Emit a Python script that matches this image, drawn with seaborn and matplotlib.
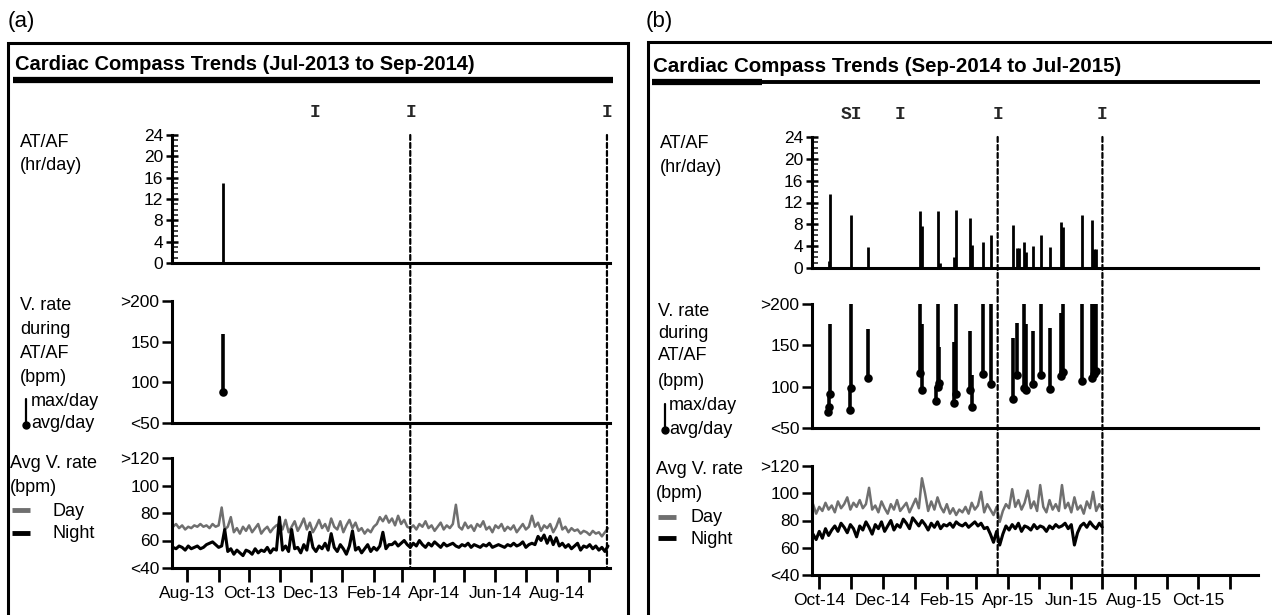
import numpy as np
import pandas as pd
import matplotlib
matplotlib.use("Agg")
import matplotlib.pyplot as plt
import matplotlib.dates as mdates
from matplotlib.patches import Rectangle, ConnectionPatch
from matplotlib.lines import Line2D
import seaborn as sns

sns.set_theme(style="white")
plt.rcParams['font.family'] = ['Liberation Sans', 'DejaVu Sans']

# ------------------------------------------------------------------ data (a)
a_title = "Cardiac Compass Trends (Jul-2013 to Sep-2014)"
a_xlim = ["2013-07-17", "2014-09-22"]
a_afib_dates = ["2013-09-05"]
a_afib_hours = [15]
a_vr_dates = ["2013-09-05"]
a_vr_max = [160]
a_vr_avg = [88]
a_marker_dates = ["2013-12-05", "2014-03-10", "2014-09-19"]
a_marker_text = ["I", "I", "I"]
a_dashed_dates = ["2014-03-09", "2014-09-19"]
a_rate_start = "2013-07-18"
a_rate_step_days = 3
a_day = [70, 72, 69, 71, 68, 70, 69, 71, 70, 72, 70,
         71, 69, 72, 70, 71, 84,
         68, 70, 77,
         66, 69, 65, 70, 67, 71, 66, 69, 72, 65, 68, 70, 66, 69, 71,
         72, 68, 75, 66, 70, 74, 67, 71, 76, 68, 73, 66, 70, 75, 69, 72, 67, 76, 70, 68, 74, 66, 71, 75, 69, 73,
         67, 69, 65, 68, 66, 70,
         72, 77, 74, 78, 73,
         76, 71, 78, 72, 75, 70,
         69, 71, 68, 72, 70, 74, 69, 71, 67, 70, 73, 68, 71, 69,
         72, 86,
         70, 68, 73, 69, 71, 67, 72, 70, 74, 68, 70, 66, 71, 69, 72, 67, 70, 68, 71, 66, 69, 72, 68, 70,
         78,
         70, 73, 67, 71, 69, 72, 66, 70,
         76,
         68, 70, 66, 69, 67, 68, 65, 67, 66, 64, 67, 65, 66,
         63, 66, 69]
a_night = [55, 54, 56, 55, 53, 56, 54, 55, 56, 54, 55,
           57, 58, 59, 57, 55, 56,
           68,
           52, 54, 50, 53, 51, 49, 53, 52, 50, 54, 51, 53, 52, 55, 51, 54, 53,
           77,
           53, 56, 52, 68, 54, 55, 51, 57, 53, 66, 55, 52, 56, 54, 58, 53, 65, 55, 52, 57, 54, 50, 56, 67,
           53, 55, 51, 54, 57, 52, 55, 53, 56, 66, 54, 57,
           57, 59, 56, 58, 60, 57,
           55, 58, 56, 60, 57, 55, 58, 56, 59, 57, 55, 58, 56, 57,
           58, 56, 55, 57, 56, 58, 55, 57, 56, 55, 57, 56, 58, 55, 56, 57, 56, 55, 57, 56, 58, 56, 57, 59, 55, 57,
           58, 57, 63, 60, 64, 58, 63, 57, 62,
           56, 58, 55, 57, 54, 56, 58, 53, 56, 55, 57, 54, 56, 53, 55, 52, 56]

# ------------------------------------------------------------------ data (b)
b_title = "Cardiac Compass Trends (Sep-2014 to Jul-2015)"
b_xlim = ["2014-09-24", "2015-11-28"]
b_afib_dates = ["2014-10-10", "2014-10-11", "2014-11-01", "2014-11-17", "2015-01-06", "2015-01-08",
                "2015-01-23", "2015-01-25", "2015-02-08", "2015-02-10", "2015-02-23", "2015-02-25",
                "2015-03-08", "2015-03-16", "2015-04-06", "2015-04-10", "2015-04-12", "2015-04-16",
                "2015-04-18", "2015-04-25", "2015-05-03", "2015-05-11", "2015-05-22", "2015-05-24",
                "2015-06-11", "2015-06-21", "2015-06-23", "2015-06-25"]
b_afib_hours = [1.2, 13.5, 9.8, 3.8, 10.4, 7.7,
                10.4, 1.0, 2.1, 10.7, 9.1, 4.3,
                4.8, 6.0, 7.9, 3.7, 3.7, 4.8,
                2.9, 4.1, 6.0, 3.8, 8.5, 7.6,
                9.8, 8.8, 3.5, 3.5]
b_vr_dates = ["2014-10-09", "2014-10-10", "2014-10-11", "2014-10-31", "2014-11-01", "2014-11-17",
              "2015-01-06", "2015-01-08", "2015-01-22", "2015-01-23", "2015-01-24", "2015-02-08",
              "2015-02-10", "2015-02-23", "2015-02-25", "2015-03-08", "2015-03-16", "2015-04-06",
              "2015-04-10", "2015-04-16", "2015-04-18", "2015-04-25", "2015-05-03", "2015-05-11",
              "2015-05-22", "2015-05-24", "2015-06-11", "2015-06-21", "2015-06-23", "2015-06-25"]
b_vr_max = [75, 91, 176, 98, 200, 170,
            200, 176, 100, 200, 148, 154,
            200, 167, 114, 200, 200, 159,
            177, 200, 176, 167, 200, 171,
            189, 200, 200, 200, 200, 200]
b_vr_avg = [69, 75, 91, 72, 98, 111,
            116, 96, 83, 100, 105, 80,
            91, 96, 76, 115, 103, 85,
            114, 98, 96, 103, 114, 97,
            113, 118, 107, 111, 115, 119]
b_marker_dates = ["2014-11-01", "2014-12-18", "2015-03-22", "2015-07-01"]
b_marker_text = ["SI", "I", "I", "I"]
b_dashed_dates = ["2015-03-22", "2015-07-01"]
b_rate_start = "2014-09-25"
b_rate_step_days = 3
b_day = [92, 85, 90, 87, 93, 88, 91, 86, 94, 89,
         92, 97, 88, 93, 90, 95, 89, 92,
         104,
         88, 91, 86, 94, 89, 85, 92, 88, 95, 87, 90, 93, 86, 91, 96, 89,
         111, 100,
         87, 94, 88, 97, 90, 86, 92, 85, 89, 84, 88, 86, 90, 85, 93, 88, 91,
         101,
         86, 92, 88, 84, 90, 79, 87, 92, 89,
         103,
         90, 95, 88, 93,
         102,
         89, 94, 87,
         106,
         90, 86, 95, 88, 92, 87,
         106,
         89, 93, 86, 97, 88, 91, 85, 94, 89,
         101,
         87, 92, 88]
b_night = [70, 66, 72, 67, 74, 69, 73, 76, 72, 78,
           75, 71, 77, 74, 68, 76, 73, 79, 75, 70,
           77, 74, 79, 72, 76, 80, 73, 77, 75, 81,
           78, 74, 82, 79, 76, 80, 77, 73, 78, 75,
           79, 74, 77, 76, 78, 75, 79, 77, 76, 78,
           75, 77, 79, 76, 78, 74, 75, 70, 64, 72,
           62, 70, 76, 73, 77, 74, 78, 72, 76, 75,
           73, 77, 74, 76, 75, 72, 76, 74, 77, 75,
           76, 78, 74, 77, 62, 71, 76, 78, 75, 79,
           76, 74, 78, 75]

afib_ticks = [0, 4, 8, 12, 16, 20, 24]
vr_ticks = [50, 100, 150, 200]
vr_ticklabels = ["<50", "100", "150", ">200"]
rate_ticks = [40, 60, 80, 100, 120]
rate_ticklabels = ["<40", "60", "80", "100", ">120"]

DAY_COLOR = "#6f6f6f"
W, H = 1272, 615

fig = plt.figure(figsize=(W / 100, H / 100), dpi=100)


def rect(x0, y0, x1, y1):
    return [x0 / W, 1 - y1 / H, (x1 - x0) / W, (y1 - y0) / H]


def fx(x):
    return x / W


def fy(y):
    return 1 - y / H


def ftext(x, y, s, **kw):
    kw.setdefault("fontsize", 13)
    kw.setdefault("va", "center")
    kw.setdefault("ha", "left")
    kw.setdefault("color", "black")
    fig.text(fx(x), fy(y), s, **kw)


def fline(x0, y0, x1, y1, **kw):
    kw.setdefault("color", "black")
    fig.add_artist(Line2D([fx(x0), fx(x1)], [fy(y0), fy(y1)], **kw))


def style_axis(ax, xlim):
    ax.set_xlim(pd.to_datetime(xlim[0]), pd.to_datetime(xlim[1]))
    sns.despine(ax=ax)
    ax.set_facecolor("none")
    for s in ["left", "bottom"]:
        ax.spines[s].set_color("black")
        ax.spines[s].set_linewidth(2.2)
    ax.set_xlabel("")
    ax.set_ylabel("")
    ax.tick_params(axis="y", colors="black", labelsize=12.5, width=1.8, length=7,
                   direction="out", pad=2, left=True)


def build_panel(cfg):
    x0, x1 = cfg["x0"], cfg["x1"]
    ys = cfg["ys"]
    ax1 = fig.add_axes(rect(x0, ys[0][0], x1, ys[0][1]))
    ax2 = fig.add_axes(rect(x0, ys[1][0], x1, ys[1][1]))
    ax3 = fig.add_axes(rect(x0, ys[2][0], x1, ys[2][1]))

    # AT/AF hours
    afd = pd.to_datetime(cfg["afib_dates"])
    ax1.vlines(afd, 0, cfg["afib_hours"], color="black", lw=2.0)
    ax1.set_ylim(0, 24)
    style_axis(ax1, cfg["xlim"])
    ax1.set_yticks(afib_ticks)
    ax1.set_yticks(np.arange(0, 25, 1), minor=True)
    ax1.tick_params(axis="y", which="minor", direction="in", length=4, width=1.2, left=True)
    ax1.tick_params(axis="y", which="major", direction="inout", length=9)
    ax1.tick_params(axis="x", bottom=False, labelbottom=False)

    # V. rate during AT/AF
    vrd = pd.to_datetime(cfg["vr_dates"])
    ax2.vlines(vrd, cfg["vr_avg"], cfg["vr_max"], color="black", lw=2.6)
    sns.scatterplot(x=vrd, y=cfg["vr_avg"], ax=ax2, color="black", s=38,
                    linewidth=0, legend=False, clip_on=False, zorder=3)
    ax2.set_ylim(50, 200)
    style_axis(ax2, cfg["xlim"])
    ax2.set_yticks(vr_ticks)
    ax2.set_yticklabels(vr_ticklabels)
    ax2.tick_params(axis="x", bottom=False, labelbottom=False)

    # Avg V. rate day / night
    dd = pd.date_range(cfg["rate_start"], periods=len(cfg["day"]), freq=f"{cfg['step']}D")
    nd = pd.date_range(cfg["rate_start"], periods=len(cfg["night"]), freq=f"{cfg['step']}D")
    sns.lineplot(x=dd, y=cfg["day"], ax=ax3, color=DAY_COLOR, lw=1.8)
    sns.lineplot(x=nd, y=cfg["night"], ax=ax3, color="black", lw=2.2)
    ax3.set_ylim(40, 120)
    style_axis(ax3, cfg["xlim"])
    ax3.set_yticks(rate_ticks)
    ax3.set_yticklabels(rate_ticklabels)
    ax3.xaxis.set_major_locator(mdates.MonthLocator(bymonth=(2, 4, 6, 8, 10, 12)))
    ax3.xaxis.set_major_formatter(mdates.DateFormatter("%b-%y"))
    ax3.xaxis.set_minor_locator(mdates.MonthLocator())
    ax3.tick_params(axis="x", which="both", bottom=True, direction="out", length=10,
                    width=2.0, colors="black", labelsize=12.5, pad=3)

    # event markers above the top chart
    for d, t in zip(cfg["marker_dates"], cfg["marker_text"]):
        xn = mdates.date2num(pd.to_datetime(d))
        ax1.annotate(t, xy=(xn, 1), xycoords=ax1.get_xaxis_transform(),
                     xytext=(0, 16), textcoords="offset points", ha="center", va="center",
                     fontsize=13, fontweight="bold", family=["Liberation Mono", "DejaVu Sans Mono"],
                     annotation_clip=False)

    # dashed vertical lines through all three charts
    for d in cfg["dashed_dates"]:
        xn = mdates.date2num(pd.to_datetime(d))
        con = ConnectionPatch(xyA=(xn, 24), coordsA=ax1.transData,
                              xyB=(xn, 40), coordsB=ax3.transData,
                              color="black", lw=1.6, linestyle=(0, (2.2, 1.4)))
        fig.add_artist(con)

    return ax1, ax2, ax3


panels = [
    dict(x0=172, x1=610, ys=[(135, 263), (301, 423), (458, 568)], xlim=a_xlim,
         afib_dates=a_afib_dates, afib_hours=a_afib_hours,
         vr_dates=a_vr_dates, vr_max=a_vr_max, vr_avg=a_vr_avg,
         rate_start=a_rate_start, step=a_rate_step_days, day=a_day, night=a_night,
         marker_dates=a_marker_dates, marker_text=a_marker_text, dashed_dates=a_dashed_dates),
    dict(x0=812, x1=1258, ys=[(137, 268), (304, 428), (466, 575)], xlim=b_xlim,
         afib_dates=b_afib_dates, afib_hours=b_afib_hours,
         vr_dates=b_vr_dates, vr_max=b_vr_max, vr_avg=b_vr_avg,
         rate_start=b_rate_start, step=b_rate_step_days, day=b_day, night=b_night,
         marker_dates=b_marker_dates, marker_text=b_marker_text, dashed_dates=b_dashed_dates),
]
for p in panels:
    build_panel(p)

# ------------------------------------------------------------------ frames, titles, labels
fig.add_artist(Rectangle((fx(8), fy(640)), fx(628) - fx(8), fy(43) - fy(640),
                         transform=fig.transFigure, fill=False, edgecolor="black", lw=2.2))
fig.add_artist(Rectangle((fx(648), fy(640)), fx(1290) - fx(648), fy(42) - fy(640),
                         transform=fig.transFigure, fill=False, edgecolor="black", lw=2.2))

ftext(8, 22, "(a)", fontsize=16)
ftext(646, 22, "(b)", fontsize=16)
ftext(15, 64, a_title, fontsize=14.5, fontweight="bold")
ftext(653, 67, b_title, fontsize=14.8, fontweight="bold")
fline(13, 80, 613, 80, lw=4.5, solid_capstyle="butt")
fline(652, 82, 762, 82, lw=4.5, solid_capstyle="butt")
fline(762, 82, 1260, 82, lw=2.8, solid_capstyle="butt")

# panel (a) row labels
ftext(20, 142, "AT/AF")
ftext(20, 165, "(hr/day)")
for y, s in zip([306, 330, 353, 377], ["V. rate", "during", "AT/AF", "(bpm)"]):
    ftext(20, y, s)
ftext(31, 401, "max/day")
ftext(31, 424, "avg/day")
fline(25.5, 399, 25.5, 424, lw=1.6)
fig.add_artist(Line2D([fx(25.5)], [fy(425)], marker="o", markersize=5, color="black"))
ftext(10, 463, "Avg V. rate")
ftext(10, 488, "(bpm)")
fline(12, 510, 30, 510, lw=3.5, color=DAY_COLOR, solid_capstyle="butt")
ftext(52, 511, "Day")
fline(12, 533, 30, 533, lw=3.5, solid_capstyle="butt")
ftext(52, 534, "Night")

# panel (b) row labels
ftext(660, 144, "AT/AF")
ftext(660, 168, "(hr/day)")
for y, s in zip([311, 334, 356, 381], ["V. rate", "during", "AT/AF", "(bpm)"]):
    ftext(658, y, s)
ftext(669, 406, "max/day")
ftext(669, 430, "avg/day")
fline(664.5, 404, 664.5, 429, lw=1.6)
fig.add_artist(Line2D([fx(664.5)], [fy(430)], marker="o", markersize=5, color="black"))
ftext(656, 469, "Avg V. rate")
ftext(656, 494, "(bpm)")
fline(658, 517, 676, 517, lw=3.5, color=DAY_COLOR, solid_capstyle="butt")
ftext(691, 518, "Day")
fline(658, 538, 676, 538, lw=3.5, solid_capstyle="butt")
ftext(691, 539, "Night")

fig.savefig("out.png", dpi=100, facecolor="white")
